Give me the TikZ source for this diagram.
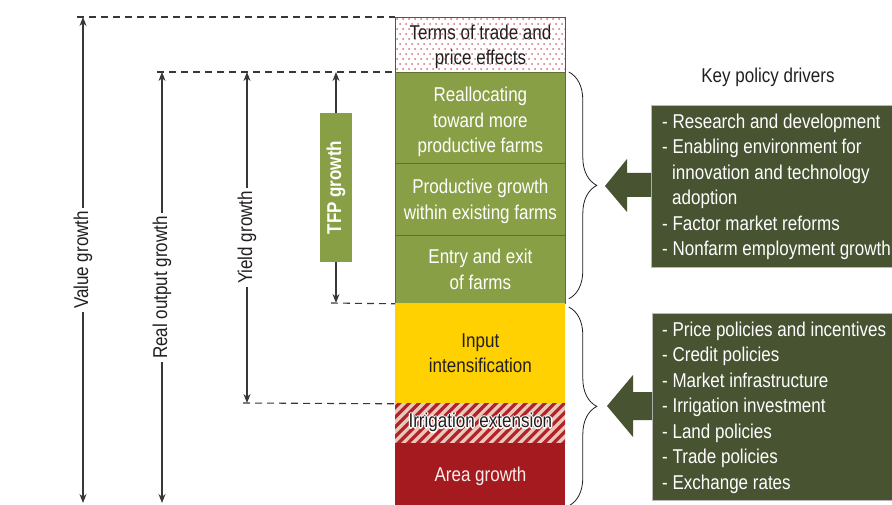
\documentclass[tikz,border=0pt]{standalone}
\usepackage{fontspec}
\setmainfont{Liberation Sans}[FakeStretch=0.85]
\usepackage{contour}
\contourlength{1.3pt}
\contournumber{8}
\usetikzlibrary{arrows.meta,decorations.pathreplacing}

\definecolor{ink}{RGB}{35,31,32}
\definecolor{leaf}{RGB}{137,159,70}
\definecolor{leafline}{RGB}{95,112,45}
\definecolor{sun}{RGB}{255,209,0}
\definecolor{brick}{RGB}{164,26,30}
\definecolor{stripe}{RGB}{178,34,40}
\definecolor{blush}{RGB}{233,200,188}
\definecolor{dotred}{RGB}{214,110,120}
\definecolor{frame}{RGB}{200,30,45}
\definecolor{moss}{RGB}{72,83,50}
\definecolor{rule}{RGB}{55,55,55}

\begin{document}
\begin{tikzpicture}[x=1pt,y=-1pt,
  every node/.style={font=\fontsize{20}{25.5}\selectfont, text=ink, inner sep=0pt},
  blk/.style={draw=leafline, line width=0.8pt, minimum width=170pt, anchor=north west, align=center},
  meas/.style={draw=rule, line width=1.1pt, {Stealth[length=9pt,width=7pt]}-{Stealth[length=9pt,width=7pt]}},
  guide/.style={draw=rule, line width=1.1pt, dash pattern=on 7pt off 5pt},
  lbl/.style={fill=white, rotate=90, inner xsep=3pt, inner ysep=1pt},
  tfp/.style={fill=leaf, rotate=90, minimum width=149pt, minimum height=32pt, text=white, font=\fontsize{20}{25.5}\selectfont\bfseries},
  drvbox/.style={fill=moss, draw=gray!55, line width=0.6pt, anchor=north west, minimum width=241pt},
  drvlist/.style={anchor=base west, align=left, text=white},
  bracket/.style={draw=ink, line width=0.8pt, decorate, decoration={brace, amplitude=28pt}},
  fatarrow/.style={fill=moss}
]
\useasboundingbox (0,0) rectangle (892,505);

% dotted background of the price box
\begin{scope}
  \clip (395,17) rectangle (565,72);
  \foreach \r in {0,...,11} {
    \foreach \c in {0,...,28} {
      \fill[dotred] ({397+\c*6+mod(\r,2)*3},{19+\r*5}) circle[radius=1pt];
    }
  }
\end{scope}

% hatched background of the irrigation band
\begin{scope}
  \clip (395,403) rectangle (565,443);
  \fill[blush] (395,403) rectangle (565,443);
  \foreach \i in {0,...,24} {
    \draw[stripe, line width=3.2pt] ({345+\i*9.7},448) -- ++(52,-52);
  }
\end{scope}

% stacked column
\node[blk, draw=frame, line width=0.9pt, minimum height=55pt] (terms) at (395,17) {};
\node[align=center] (termstxt) at ([yshift=-2pt]terms.center) {Terms of trade and\\price effects};
\node[blk, fill=leaf, minimum height=91pt] (realloc) at (395,72) {};
\node[align=center, text=white] (realloctxt) at ([yshift=-4pt]realloc.center) {Reallocating\\toward more\\productive farms};
\node[blk, fill=leaf, minimum height=72pt] (prod) at (395,163) {};
\node[align=center, text=white] (prodtxt) at ([yshift=-2pt]prod.center) {Productive growth\\within existing farms};
\node[blk, fill=leaf, text=white, minimum height=68pt] (entry) at (395,235) {Entry and exit\\of farms};
\node[blk, fill=sun, draw=none, minimum height=100pt] (input) at (395,303) {Input\\intensification};
\node[blk, draw=none, minimum height=40pt] (irrig) at (395,403) {\contour{white}{Irrigation extension}};
\node[blk, fill=brick, draw=none, minimum height=62pt] (area) at (395,443) {};
\node[text=white!92!brick] (areatxt) at ([yshift=-2pt]area.center) {Area growth};

% measurement ends
\coordinate (vtop) at (83,17);
\coordinate (vbot) at (83,503);
\coordinate (rtop) at (162,72);
\coordinate (rbot) at (162,503);
\coordinate (ytop) at (247,72);
\coordinate (ybot) at (247,403);
\coordinate (ttop) at (336,72);
\coordinate (tbot) at (336,303);

% dashed guides to the column
\draw[guide] ([xshift=-6pt]vtop) -- (terms.north west);
\draw[guide] ([xshift=-5pt]rtop) -- (realloc.north west);
\draw[guide] ([xshift=-4pt]ybot) -- (input.south west);
\draw[guide] ([xshift=-5pt]tbot) -- (entry.south west);

% measurement arrows
\draw[meas] (vbot) -- node[lbl] (vlab) {Value growth} (vtop);
\draw[meas] (rbot) -- node[lbl] (rlab) {Real output growth} (rtop);
\draw[meas] (ybot) -- node[lbl] (ylab) {Yield growth} (ytop);
\draw[meas] (tbot) -- node[tfp] (tlab) {TFP growth} (ttop);

% braces
\draw[bracket] ([xshift=3pt]realloc.north east) -- ([xshift=3pt,yshift=5pt]entry.south east);
\draw[bracket] ([xshift=3pt,yshift=-4pt]input.north east) -- ([xshift=3pt]area.south east);

% policy drivers
\node (key) at (768,77) {Key policy drivers};

\node[drvbox, minimum height=162pt] (box1) at (651,105) {};
\fill[fatarrow] (605,186) -- (627,159) -- (627,173) -- (box1.west |- 0,173) -- (box1.west |- 0,197) -- (627,197) -- (627,212) -- cycle;
% the base of a multi-line node is the baseline of its last line
\node[drvlist] (list1) at (662,256) {- Research and development\\- Enabling environment for\\\hspace{10pt}innovation and technology\\\hspace{10pt}adoption\\- Factor market reforms\\- Nonfarm employment growth};

\node[drvbox, minimum height=187pt] (box2) at (652,313) {};
\fill[fatarrow] (607,406) -- (633,375) -- (633,392) -- (box2.west |- 0,392) -- (box2.west |- 0,420) -- (633,420) -- (633,437) -- cycle;
\node[drvlist] (list2) at (662,489) {- Price policies and incentives\\- Credit policies\\- Market infrastructure\\- Irrigation investment\\- Land policies\\- Trade policies\\- Exchange rates};
\end{tikzpicture}
\end{document}
